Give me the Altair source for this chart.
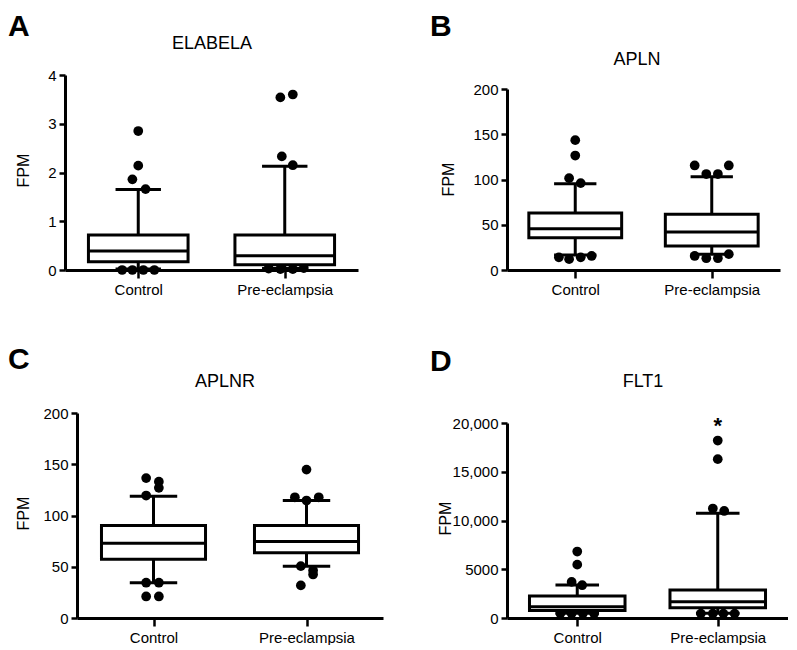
import altair as alt
import pandas as pd

FONT = "Liberation Sans, Arial, Helvetica, sans-serif"
GROUPS = ["Control", "Pre-eclampsia"]

# ---------------- A: ELABELA ----------------
ela_lo = [0.02, 0.03]
ela_q1 = [0.17, 0.11]
ela_med = [0.39, 0.29]
ela_q3 = [0.72, 0.72]
ela_hi = [1.65, 2.13]
ela_pt_group = [0, 0, 0, 0, 0, 0, 0, 0, 1, 1, 1, 1, 1, 1, 1, 1]
ela_pt_value = [2.85, 2.14, 1.86, 1.66, 0.0, 0.0, 0.0, 0.0,
                3.54, 3.60, 2.33, 2.15, 0.03, 0.02, 0.02, 0.04]
ela_pt_jitter = [0.0, 0.0, -0.04, 0.05, -0.11, -0.04, 0.035, 0.11,
                 -0.03, 0.055, -0.02, 0.055, -0.11, -0.03, 0.055, 0.13]

# ---------------- B: APLN ----------------
apln_lo = [16.5, 17.3]
apln_q1 = [35.5, 26.5]
apln_med = [45.5, 42.0]
apln_q3 = [63.0, 61.5]
apln_hi = [95.2, 103.0]
apln_pt_group = [0, 0, 0, 0, 0, 0, 0, 0, 1, 1, 1, 1, 1, 1, 1, 1]
apln_pt_value = [143.5, 126.5, 101.5, 96.0, 14.0, 12.0, 14.0, 15.5,
                 115.5, 106.0, 106.0, 115.5, 15.5, 13.0, 13.0, 17.5]
apln_pt_jitter = [0.0, 0.0, -0.045, 0.04, -0.12, -0.045, 0.04, 0.12,
                  -0.125, -0.04, 0.045, 0.125, -0.125, -0.04, 0.045, 0.125]

# ---------------- C: APLNR ----------------
aplnr_lo = [34.4, 50.6]
aplnr_q1 = [57.2, 63.6]
aplnr_med = [73.0, 74.7]
aplnr_q3 = [90.3, 90.3]
aplnr_hi = [118.8, 114.6]
aplnr_pt_group = [0, 0, 0, 0, 0, 0, 0, 0, 1, 1, 1, 1, 1, 1, 1, 1]
aplnr_pt_value = [136.5, 133.0, 127.0, 119.5, 34.4, 34.4, 21.0, 21.0,
                  144.8, 117.8, 114.6, 117.8, 50.6, 46.4, 42.5, 31.8]
aplnr_pt_jitter = [-0.048, 0.035, 0.035, -0.048, -0.048, 0.035, -0.048, 0.035,
                   0.0, -0.076, 0.0, 0.08, -0.037, 0.043, 0.043, -0.037]

# ---------------- D: FLT1 ----------------
flt1_lo = [500, 500]
flt1_q1 = [760, 1040]
flt1_med = [1145, 1665]
flt1_q3 = [2245, 2870]
flt1_hi = [3390, 10740]
flt1_pt_group = [0, 0, 0, 0, 0, 0, 0, 0, 1, 1, 1, 1, 1, 1, 1, 1]
flt1_pt_value = [6820, 5470, 3700, 3360, 450, 450, 450, 450,
                 18200, 16290, 11230, 10980, 450, 450, 450, 450]
flt1_pt_jitter = [0.0, 0.0, -0.04, 0.035, -0.12, -0.04, 0.04, 0.12,
                  0.0, 0.0, -0.035, 0.046, -0.12, -0.035, 0.04, 0.12]
flt1_star_value = 20300

LABEL_EXPR = "datum.value == 1 ? '%s' : '%s'" % (GROUPS[0], GROUPS[1])


def panel(gene, letter, lo, q1, med, q3, hi, pg, pv, pj, ymax, yticks, w, h,
          letter_xy, title_xy, fpm_xy, xrange=None, yrange=None, yoffset=0,
          ylabel_expr=None, star=None):
    stats = pd.DataFrame({"g": [1, 2], "lo": lo, "q1": q1, "med": med, "q3": q3, "hi": hi})
    pts = pd.DataFrame({"g": [i + 1 for i in pg], "v": pv, "j": pj})
    xsargs = dict(domain=[0.5, 2.5], nice=False, zero=False)
    if xrange:
        xsargs["range"] = xrange
    ysargs = dict(domain=[0, ymax], nice=False, zero=False)
    if yrange:
        ysargs["range"] = yrange
    xs = alt.Scale(**xsargs)
    ys = alt.Scale(**ysargs)
    xaxis = alt.Axis(values=[1, 2], labelExpr=LABEL_EXPR, title=None)
    yargs = dict(values=yticks, title="FPM", titleX=fpm_xy[0], titleY=fpm_xy[1])
    if yoffset:
        yargs["offset"] = yoffset
    if ylabel_expr:
        yargs["labelExpr"] = ylabel_expr
    yaxis = alt.Axis(**yargs)

    def X(f):
        return alt.X(f, type="quantitative", scale=xs, axis=xaxis)

    def Y(f):
        return alt.Y(f, type="quantitative", scale=ys, axis=yaxis)

    base = alt.Chart(stats).transform_calculate(
        bl="datum.g - 0.34", br="datum.g + 0.34",
        cl="datum.g - 0.155", cr="datum.g + 0.155")
    rule = dict(color="black", strokeWidth=3)
    w_up = base.mark_rule(**rule).encode(x=X("g"), y=Y("q3"), y2="hi:Q")
    w_dn = base.mark_rule(**rule).encode(x=X("g"), y=Y("lo"), y2="q1:Q")
    c_up = base.mark_rule(**rule).encode(x=X("cl"), x2="cr:Q", y=Y("hi"))
    c_dn = base.mark_rule(**rule).encode(x=X("cl"), x2="cr:Q", y=Y("lo"))
    dots = alt.Chart(pts).transform_calculate(xp="datum.g + datum.j").mark_circle(
        size=95, color="black", opacity=1).encode(x=X("xp"), y=Y("v"))
    box = base.mark_rect(fill="white", stroke="black", strokeWidth=3).encode(
        x=X("bl"), x2="br:Q", y=Y("q1"), y2="q3:Q")
    medl = base.mark_rule(**rule).encode(x=X("bl"), x2="br:Q", y=Y("med"))
    lt = alt.Chart(pd.DataFrame({"t": [letter]})).mark_text(
        font=FONT, fontSize=30, fontWeight="bold", align="left", baseline="top",
        color="black").encode(text="t:N", x=alt.value(letter_xy[0]), y=alt.value(letter_xy[1]))
    tt = alt.Chart(pd.DataFrame({"t": [gene]})).mark_text(
        font=FONT, fontSize=18, align="center", baseline="alphabetic",
        color="black").encode(text="t:N", x=alt.value(title_xy[0]), y=alt.value(title_xy[1]))
    layers = [w_up, w_dn, c_up, c_dn, dots, box, medl, lt, tt]
    if star is not None:
        st = alt.Chart(pd.DataFrame({"g": [2], "v": [star], "t": ["*"]})).mark_text(
            font=FONT, fontSize=22, fontWeight="bold", baseline="alphabetic", dy=13,
            color="black").encode(x=X("g"), y=Y("v"), text="t:N")
        layers.append(st)
    return alt.layer(*layers).properties(width=w, height=h)


pA = panel("ELABELA", "A", ela_lo, ela_q1, ela_med, ela_q3, ela_hi,
           ela_pt_group, ela_pt_value, ela_pt_jitter, 4, [0, 1, 2, 3, 4],
           293, 195, (-57, -63), (147, -26), (-34, 95))
pB = panel("APLN", "B", apln_lo, apln_q1, apln_med, apln_q3, apln_hi,
           apln_pt_group, apln_pt_value, apln_pt_jitter, 200, [0, 50, 100, 150, 200],
           273, 195, (-77, -63), (130, -10), (-51, 104), yrange=[195, 14])
pC = panel("APLNR", "C", aplnr_lo, aplnr_q1, aplnr_med, aplnr_q3, aplnr_hi,
           aplnr_pt_group, aplnr_pt_value, aplnr_pt_jitter, 200, [0, 50, 100, 150, 200],
           318, 205, (-57, -68), (160, -26), (-46, 100), xrange=[12, 318], yoffset=-12)
pD = panel("FLT1", "D", flt1_lo, flt1_q1, flt1_med, flt1_q3, flt1_hi,
           flt1_pt_group, flt1_pt_value, flt1_pt_jitter, 20000,
           [0, 5000, 10000, 15000, 20000], 281, 205, (-77, -66), (136, -26), (-54, 105),
           yrange=[205, 10],
           ylabel_expr="datum.value >= 10000 ? format(datum.value, ',') : format(datum.value, 'd')",
           star=flt1_star_value)

chart = alt.concat(
    pA, pB, pC, pD, columns=2, spacing={"row": 143, "column": 124},
    bounds="flush", align="each"
).properties(padding={"top": 4, "left": 0, "right": 0, "bottom": 0}).configure_view(
    stroke=None
).configure_axis(
    domainColor="black", domainWidth=3, tickColor="black", tickWidth=2.5,
    labelColor="black", labelFont=FONT, labelFontSize=15,
    titleFont=FONT, titleFontSize=16, titleFontWeight="normal", titleColor="black",
    grid=False
).configure_axisX(tickSize=8, labelPadding=4).configure_axisY(tickSize=6, labelPadding=3)

chart.save("out.html", embed_options={"renderer": "svg", "actions": False})
